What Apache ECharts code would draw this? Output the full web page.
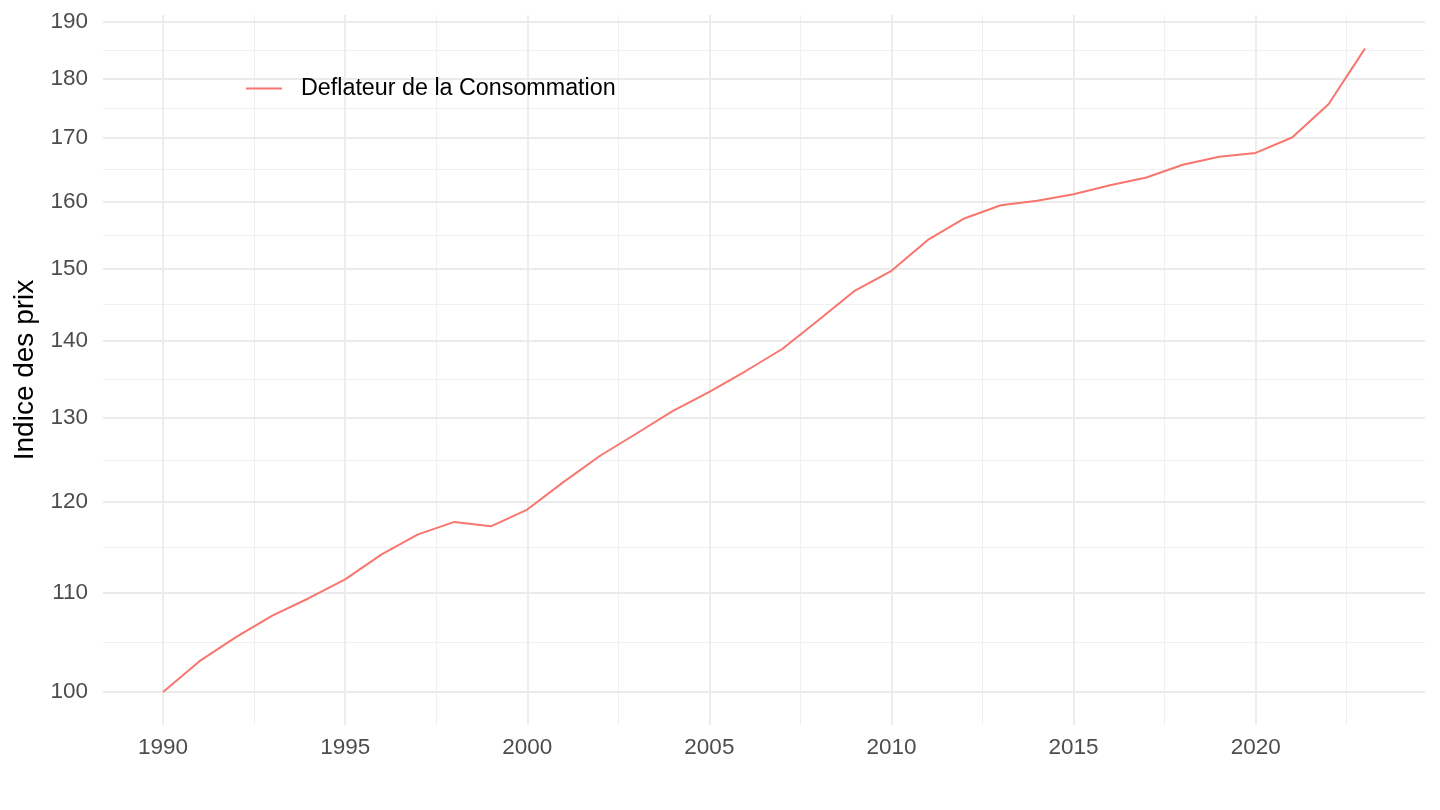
<!DOCTYPE html>
<html>
<head>
<meta charset="utf-8">
<script src="https://cdn.jsdelivr.net/npm/echarts@6/dist/echarts.min.js"></script>
<style>
html,body{margin:0;padding:0;background:#fff;}
#chart{width:1440px;height:810px;}
</style>
</head>
<body>
<div id="chart"></div>
<script>
const years = [1990,1991,1992,1993,1994,1995,1996,1997,1998,1999,2000,2001,2002,2003,2004,2005,2006,2007,2008,2009,2010,2011,2012,2013,2014,2015,2016,2017,2018,2019,2020,2021,2022,2023];
const deflateur = [100.0,103.0,105.4,107.6,109.4,111.4,114.1,116.3,117.7,117.2,119.1,122.3,125.4,128.1,130.9,133.3,136.0,138.9,142.8,146.9,149.7,154.2,157.4,159.4,160.1,161.1,162.5,163.7,165.7,167.0,167.6,170.1,175.6,185.2];
const seriesName = 'Deflateur de la Consommation';
const yTicks = [100,110,120,130,140,150,160,170,180,190];
const xTicks = [1990,1995,2000,2005,2010,2015,2020];
const xMinorTicks = [1992.5,1997.5,2002.5,2007.5,2012.5,2017.5,2022.5];
const yTitle = 'Indice des prix';

// minor y breaks: midpoints in log space between major breaks
const yMinorTicks = [];
for (let i = 0; i < yTicks.length - 1; i++) yMinorTicks.push(Math.sqrt(yTicks[i] * yTicks[i + 1]));

const xMin = 1988.35, xMax = 2024.65;
const yMin = 96.89, yMax = 191.27;
const FONT = 'Liberation Sans, Arial, Helvetica, sans-serif';
const gridMajor = {show: true, lineStyle: {color: '#ebebeb', width: 1.8}};
const gridMinor = {show: true, lineStyle: {color: '#f0f0f0', width: 1}};

const chart = echarts.init(document.getElementById('chart'));
chart.setOption({
  backgroundColor: '#ffffff',
  animation: false,
  grid: {left: 103, right: 15, top: 15, bottom: 85, containLabel: false},
  legend: {
    show: true,
    left: 241, top: 72,
    icon: 'rect',
    itemWidth: 36, itemHeight: 2,
    data: [seriesName],
    textStyle: {fontFamily: FONT, fontSize: 23.3, color: '#000', padding: [0, 0, 0, 14]}
  },
  xAxis: [
    {
      type: 'value', min: xMin, max: xMax,
      axisLine: {show: false},
      axisTick: {show: false, customValues: xTicks},
      axisLabel: {customValues: xTicks, color: '#4d4d4d', fontFamily: FONT, fontSize: 22.5, margin: 11, formatter: v => String(v)},
      splitLine: gridMajor
    },
    {
      type: 'value', min: xMin, max: xMax, position: 'bottom',
      axisLine: {show: false},
      axisTick: {show: false, customValues: xMinorTicks},
      axisLabel: {show: false, customValues: xMinorTicks},
      splitLine: gridMinor, z: -1
    }
  ],
  yAxis: [
    {
      type: 'log', logBase: 10, min: yMin, max: yMax,
      name: yTitle, nameLocation: 'middle', nameRotate: 90, nameGap: 64,
      nameTextStyle: {fontFamily: FONT, fontSize: 28, color: '#000'},
      axisLine: {show: false},
      axisTick: {show: false, customValues: yTicks},
      axisLabel: {customValues: yTicks, color: '#4d4d4d', fontFamily: FONT, fontSize: 22.5, margin: 15, formatter: v => String(Math.round(v))},
      splitLine: gridMajor
    },
    {
      type: 'log', logBase: 10, min: yMin, max: yMax, position: 'left',
      axisLine: {show: false},
      axisTick: {show: false, customValues: yMinorTicks},
      axisLabel: {show: false, customValues: yMinorTicks},
      splitLine: gridMinor, z: -1
    }
  ],
  series: [{
    name: seriesName,
    type: 'line',
    xAxisIndex: 0, yAxisIndex: 0,
    data: years.map((y, i) => [y, deflateur[i]]),
    symbol: 'none',
    lineStyle: {color: '#F8766D', width: 2},
    itemStyle: {color: '#F8766D'},
    z: 5
  }]
});
</script>
</body>
</html>
